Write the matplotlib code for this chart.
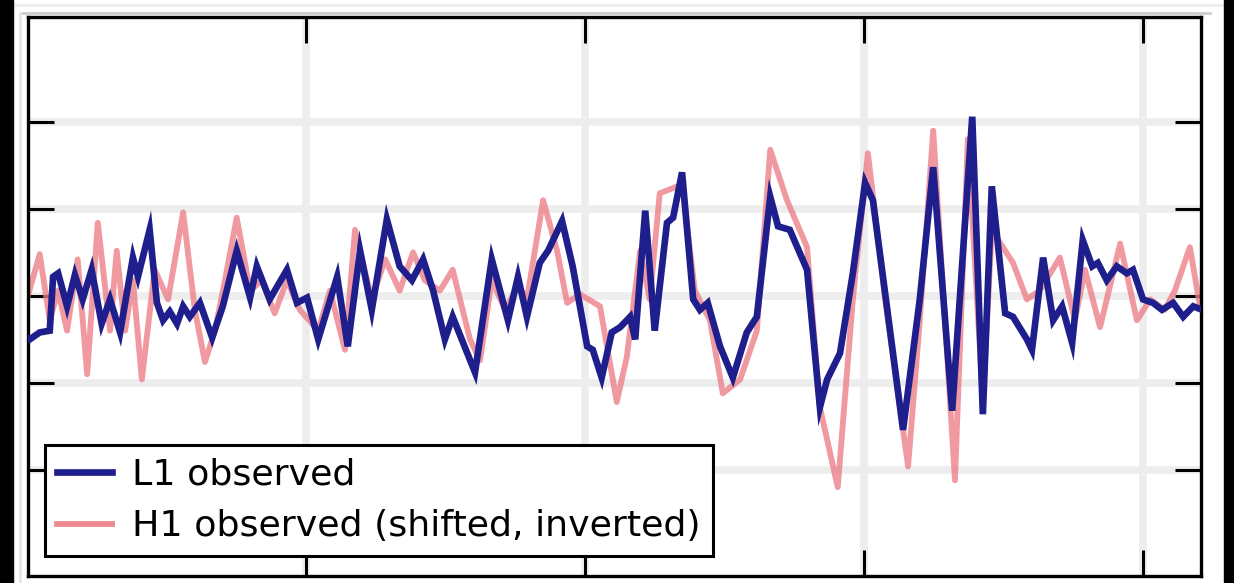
import matplotlib
matplotlib.use("Agg")
import matplotlib.pyplot as plt
from matplotlib.patches import Rectangle
from matplotlib.lines import Line2D

# Whitened strain (units of 1e-21) around the event, time in seconds
l1_time = [0.2500, 0.2505, 0.2523, 0.2541, 0.2547, 0.2556, 0.2572, 0.2586, 0.2600, 0.2616,
           0.2634, 0.2649, 0.2667, 0.2690, 0.2699, 0.2720, 0.2733, 0.2744, 0.2756, 0.2769,
           0.2780, 0.2792, 0.2810, 0.2832, 0.2851, 0.2876, 0.2900, 0.2912, 0.2935, 0.2966,
           0.2984, 0.3002, 0.3022, 0.3056, 0.3075, 0.3097, 0.3118, 0.3145, 0.3168, 0.3190,
           0.3210, 0.3228, 0.3249, 0.3263, 0.3303, 0.3333, 0.3362, 0.3380, 0.3396, 0.3419,
           0.3434, 0.3459, 0.3478, 0.3504, 0.3514, 0.3530, 0.3548, 0.3563, 0.3581, 0.3590,
           0.3608, 0.3625, 0.3647, 0.3658, 0.3674, 0.3694, 0.3706, 0.3720, 0.3742, 0.3765,
           0.3790, 0.3808, 0.3832, 0.3846, 0.3867, 0.3898, 0.3921, 0.3934, 0.3957, 0.3980,
           0.4002, 0.4016, 0.4070, 0.4100, 0.4124, 0.4158, 0.4194, 0.4213, 0.4229, 0.4253,
           0.4267, 0.4292, 0.4301, 0.4321, 0.4339, 0.4355, 0.4373, 0.4392, 0.4409, 0.4419,
           0.4435, 0.4453, 0.4471, 0.4482, 0.4500, 0.4518, 0.4534, 0.4554, 0.4572, 0.4590,
           0.4606]
l1_strain = [-0.24, -0.25, -0.21, -0.20, 0.11, 0.13, -0.06, 0.12, -0.02, 0.15,
             -0.16, -0.02, -0.21, 0.22, 0.11, 0.38, -0.04, -0.14, -0.09, -0.16,
             -0.06, -0.12, -0.04, -0.24, -0.06, 0.26, -0.01, 0.17, -0.02, 0.15,
             -0.04, -0.01, -0.25, 0.11, -0.29, 0.26, -0.08, 0.44, 0.17, 0.09,
             0.21, 0.03, -0.25, -0.12, -0.44, 0.21, -0.14, 0.11, -0.12, 0.19,
             0.26, 0.43, 0.17, -0.29, -0.31, -0.47, -0.21, -0.18, -0.12, -0.25,
             0.49, -0.20, 0.42, 0.45, 0.71, -0.02, -0.08, -0.04, -0.29, -0.47,
             -0.21, -0.12, 0.57, 0.40, 0.38, 0.15, -0.64, -0.48, -0.33, 0.13,
             0.65, 0.55, -0.77, -0.02, 0.74, -0.66, 1.03, -0.68, 0.63, -0.10,
             -0.12, -0.25, -0.31, 0.22, -0.14, -0.06, -0.27, 0.32, 0.17, 0.19,
             0.09, 0.17, 0.13, 0.15, -0.02, -0.04, -0.08, -0.04, -0.12, -0.06,
             -0.08]

h1_time = [0.2500, 0.2523, 0.2541, 0.2556, 0.2572, 0.2591, 0.2608, 0.2627, 0.2649, 0.2661,
           0.2676, 0.2690, 0.2706, 0.2729, 0.2753, 0.2780, 0.2801, 0.2819, 0.2837, 0.2855,
           0.2876, 0.2900, 0.2921, 0.2944, 0.2966, 0.2989, 0.3022, 0.3043, 0.3070, 0.3088,
           0.3118, 0.3142, 0.3168, 0.3192, 0.3213, 0.3240, 0.3263, 0.3294, 0.3312, 0.3333,
           0.3357, 0.3380, 0.3396, 0.3425, 0.3450, 0.3468, 0.3491, 0.3527, 0.3557, 0.3575,
           0.3599, 0.3616, 0.3634, 0.3674, 0.3697, 0.3724, 0.3747, 0.3778, 0.3808, 0.3832,
           0.3862, 0.3898, 0.3921, 0.3953, 0.3980, 0.4007, 0.4038, 0.4079, 0.4100, 0.4124,
           0.4163, 0.4186, 0.4213, 0.4229, 0.4267, 0.4292, 0.4315, 0.4351, 0.4378, 0.4396,
           0.4423, 0.4459, 0.4489, 0.4513, 0.4539, 0.4557, 0.4584, 0.4602]
h1_strain = [-0.02, 0.24, -0.14, 0.03, -0.20, 0.21, -0.45, 0.42, -0.20, 0.26,
             -0.20, 0.09, -0.48, 0.15, -0.02, 0.48, -0.08, -0.38, -0.20, 0.09,
             0.45, 0.03, 0.09, -0.10, 0.09, -0.08, -0.20, 0.03, -0.31, 0.38,
             -0.02, 0.21, 0.03, 0.25, 0.09, 0.03, 0.15, -0.25, -0.37, 0.09,
             -0.08, 0.06, -0.02, 0.55, 0.26, -0.04, 0.01, -0.06, -0.61, -0.35,
             0.26, -0.02, 0.59, 0.64, 0.03, -0.14, -0.56, -0.48, -0.20, 0.84,
             0.55, 0.28, -0.64, -1.10, -0.02, 0.82, -0.02, -0.98, -0.14, 0.95,
             -1.06, 0.90, -0.60, 0.38, 0.19, -0.02, 0.03, 0.22, -0.14, 0.15,
             -0.18, 0.30, -0.14, -0.02, -0.08, 0.03, 0.28, -0.06]

x_ticks = [0.30, 0.35, 0.40, 0.45]
y_ticks = [-1.0, -0.5, 0.0, 0.5, 1.0]
labels = ["L1 observed", "H1 observed (shifted, inverted)"]

W, H = 1234, 583
fig = plt.figure(figsize=(W / 100, H / 100), dpi=100, facecolor="white")
ax = fig.add_axes([28 / W, 7 / H, 1172.5 / W, 559.5 / H])

ax.grid(True, color="#ededed", linewidth=5.5, zorder=0)
ax.set_axisbelow(True)

l1_line, = ax.plot(l1_time, l1_strain, color="#1e1e8c", linewidth=4.8,
                   solid_joinstyle="miter", zorder=3, label=labels[0])
h1_line, = ax.plot(h1_time, h1_strain, color="#ec7d87", linewidth=4.2,
                   alpha=0.78, zorder=2, label=labels[1])

ax.set_xlim(0.2502, 0.4603)
ax.set_ylim(-1.61, 1.606)
ax.set_xticks(x_ticks)
ax.set_yticks(y_ticks)
ax.tick_params(direction="in", length=19, width=2.2, color="black",
               top=True, right=True, labelbottom=False, labelleft=False)
for sp in ax.spines.values():
    sp.set_linewidth(2.4)
    sp.set_color("black")

leg = ax.legend(handles=[l1_line, h1_line], loc="lower left",
                bbox_to_anchor=(0.0145, 0.036), borderaxespad=0,
                fancybox=False, framealpha=1, edgecolor="black",
                prop={"family": "DejaVu Sans", "size": 26.2},
                handlelength=1.5, handletextpad=0.55, labelspacing=0.5,
                borderpad=0.34)
leg.get_frame().set_linewidth(2.2)
leg.legend_handles[1].set_alpha(0.9)

# faint frame lines and dark border strips around the figure
fig.add_artist(Line2D([13 / W, 1224 / W], [1 - 5 / H, 1 - 5 / H],
                      transform=fig.transFigure, color="#eeeeee", linewidth=2))
fig.add_artist(Line2D([20 / W, 1210 / W], [1 - 13 / H, 1 - 13 / H],
                      transform=fig.transFigure, color="#cccccc", linewidth=2))
fig.add_artist(Line2D([20 / W, 20 / W], [0, 1 - 13 / H],
                      transform=fig.transFigure, color="#e6e6e6", linewidth=2))
fig.add_artist(Rectangle((0, 0), 13 / W, 1, transform=fig.transFigure,
                         color="black", zorder=10))
fig.add_artist(Rectangle((1224 / W, 0), 10 / W, 1, transform=fig.transFigure,
                         color="black", zorder=10))

fig.savefig("out.png", dpi=100, facecolor="white")
